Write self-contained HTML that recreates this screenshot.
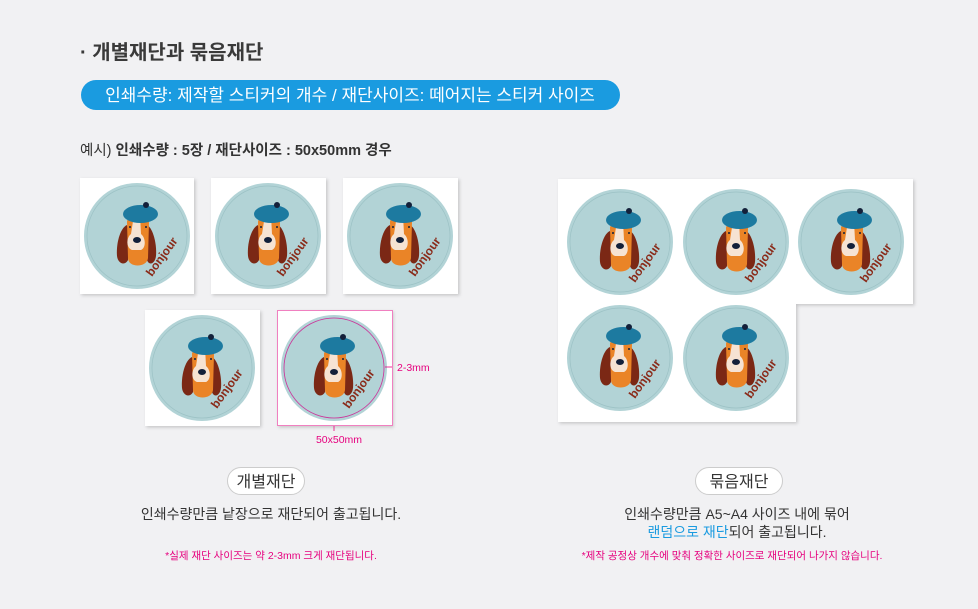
<!DOCTYPE html>
<html><head><meta charset="utf-8"><style>
html,body{margin:0;padding:0;background:#f1f1f3;}
svg{display:block;font-family:"Liberation Sans","Noto Sans CJK KR",sans-serif;}
</style></head><body>
<svg width="978" height="609" viewBox="0 0 978 609" xmlns="http://www.w3.org/2000/svg">
<defs>
<filter id="sh" x="-10%" y="-10%" width="130%" height="130%"><feDropShadow dx="1.5" dy="1.5" stdDeviation="1.5" flood-color="#000" flood-opacity="0.18"/></filter>
</defs>
<rect width="978" height="609" fill="#f1f1f3"/>
<text x="80" y="59" font-size="20" font-weight="bold" fill="#3a3a3a">· 개별재단과 묶음재단</text>
<rect x="81" y="80" width="539" height="30" rx="15" fill="#1a9be0"/>
<text x="350" y="101" font-size="17" fill="#fff" text-anchor="middle">인쇄수량: 제작할 스티커의 개수 / 재단사이즈: 떼어지는 스티커 사이즈</text>
<text x="80" y="155" font-size="14.5" fill="#333">예시) <tspan font-weight="bold">인쇄수량 : 5장 / 재단사이즈 : 50x50mm 경우</tspan></text>

<g filter="url(#sh)" fill="#fff">
<rect x="80" y="178" width="114" height="116"/>
<rect x="211" y="178" width="115" height="116"/>
<rect x="343" y="178" width="115" height="116"/>
<rect x="145" y="310" width="115" height="116"/>
<rect x="277" y="310" width="115" height="116"/>
<path d="M558,179 H913 V304 H796 V422 H558 Z"/>
</g>
<rect x="277.5" y="310.5" width="115" height="115" fill="none" stroke="#f080c0" stroke-width="1"/>

<g id="s1" transform="translate(137,236)">
<circle r="53" fill="#b2d3d6"/><circle r="50" fill="none" stroke="#9cc2c5" stroke-width="0.7"/>
<path d="M-10,-11 C-17,-8 -21,8 -20,20 C-19,28 -12,30 -9,24 L-8,-4 Z" fill="#7b2815"/>
<path d="M10,-11 C16,-8 20,8 19,20 C18,28 12,30 10,24 L9,-4 Z" fill="#7b2815"/>
<path d="M-10,-14 C-10,-22 12,-22 12,-14 L11,22 C10,32 -9,32 -9,22Z" fill="#ea8427"/>
<path d="M-3,-21 L3,-21 L4,-2 C9,2 9,12 4,14 L-5,14 C-11,12 -11,2 -6,-2Z" fill="#f6e3d3"/>
<ellipse cx="0" cy="4" rx="4" ry="3" fill="#13203a"/>
<circle cx="-7" cy="-9" r="1" fill="#13203a"/><circle cx="9" cy="-9" r="1" fill="#13203a"/>
<ellipse cx="3.5" cy="-22" rx="17.5" ry="9" fill="#1d7aa0"/><circle cx="9" cy="-31" r="3" fill="#13203a"/>
<text transform="translate(28,23) rotate(-54)" font-family="Liberation Sans, sans-serif" font-size="12" font-weight="bold" fill="#8a2b1a" text-anchor="middle">bonjour</text>
</g>
<use href="#s1" x="131" y="0"/>
<use href="#s1" x="263" y="0"/>
<use href="#s1" x="65" y="132"/>
<use href="#s1" x="197" y="132"/>
<use href="#s1" x="483" y="6"/>
<use href="#s1" x="599" y="6"/>
<use href="#s1" x="714" y="6"/>
<use href="#s1" x="483" y="122"/>
<use href="#s1" x="599" y="122"/>

<circle cx="334" cy="368" r="50" fill="none" stroke="#d0309a" stroke-width="0.8"/>
<line x1="385" y1="367" x2="392" y2="367" stroke="#e6007e" stroke-width="0.8"/>
<text x="397" y="371" font-size="10.5" fill="#e6007e">2-3mm</text>
<line x1="334" y1="426" x2="334" y2="431" stroke="#e6007e" stroke-width="0.8"/>
<text x="339" y="443" font-size="10.5" fill="#e6007e" text-anchor="middle">50x50mm</text>

<rect x="227.5" y="467.5" width="77" height="27" rx="13.5" fill="#fff" stroke="#ccc"/>
<text x="266" y="487" font-size="16" fill="#333" text-anchor="middle">개별재단</text>
<text x="271" y="519" font-size="14" fill="#333" text-anchor="middle">인쇄수량만큼 낱장으로 재단되어 출고됩니다.</text>
<text x="271" y="559" font-size="10.5" fill="#e6007e" text-anchor="middle">*실제 재단 사이즈는 약 2-3mm 크게 재단됩니다.</text>

<rect x="695.5" y="467.5" width="87" height="27" rx="13.5" fill="#fff" stroke="#ccc"/>
<text x="739" y="487" font-size="16" fill="#333" text-anchor="middle">묶음재단</text>
<text x="737" y="519" font-size="14" fill="#333" text-anchor="middle">인쇄수량만큼 A5~A4 사이즈 내에 묶어</text>
<text x="737" y="537" font-size="14" fill="#333" text-anchor="middle"><tspan fill="#1a9be0">랜덤으로 재단</tspan>되어 출고됩니다.</text>
<text x="732" y="559" font-size="10.5" fill="#e6007e" text-anchor="middle">*제작 공정상 개수에 맞춰 정확한 사이즈로 재단되어 나가지 않습니다.</text>
</svg>
</body></html>
